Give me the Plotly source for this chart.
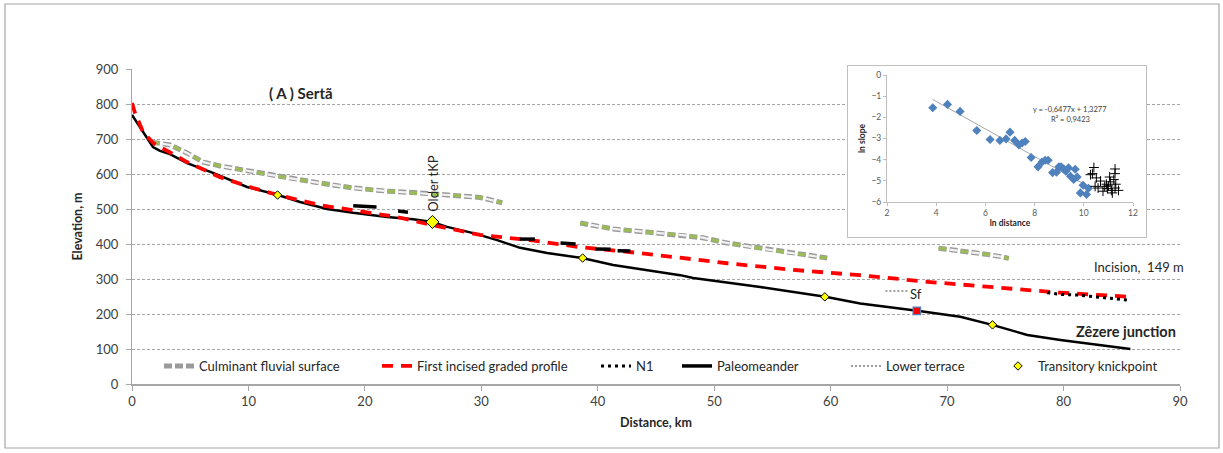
import plotly.graph_objects as go

# ---------------- data ----------------
# main long profile (black)
profile_km = [0, 0.95, 1.80, 2.41, 3.26, 4.73, 6.96, 9.88, 12.54, 14.43, 16.75, 18.99, 21.91,
              24.14, 25.77, 27.06, 29.30, 31.36, 33.33, 35.65, 38.66, 41.32, 44.24, 47.08,
              48.20, 53.95, 59.54, 62.54, 67.44, 71.13, 73.88, 76.89, 79.73, 82.56, 85.74]
profile_elev = [769, 720, 677, 666, 657, 631, 603, 563, 540, 520, 500, 489, 477,
                471, 463, 449, 431, 411, 389, 374, 360, 340, 326, 311,
                303, 277, 249, 230, 209, 192, 169, 140, 126, 114, 100]

# first incised graded profile (red dashed)
graded_km = [0, 0.26, 0.95, 1.80, 4.73, 7.56, 10.40, 12.54, 16.15, 22.77, 25.77, 29.90, 34.19,
             38.49, 43.64, 47.08, 51.1, 56.8, 62.5, 68.3, 74.0, 79.7, 85.7]
graded_elev = [803, 774, 720, 689, 634, 591, 560, 540, 511, 477, 454, 426, 411,
               391, 374, 360, 345, 326, 311, 292, 276, 261, 249]

# culminant fluvial surface (three segments, None = gap)
culminant_km = [1.72, 3.26, 4.73, 6.10, 7.56, 10.40, 13.32, 16.15, 18.99, 21.91, 24.74, 27.06, 29.90, 31.79,
                None,
                38.49, 41.32, 44.24, 47.08, 49.0, 51.1, 55.4, 59.7,
                None,
                69.27, 70.53, 72.0, 73.3, 74.6, 75.3]
culminant_elev = [691, 683, 660, 634, 623, 606, 589, 574, 560, 551, 546, 540, 533, 518,
                  None,
                  460, 443, 434, 426, 418, 403, 380, 360,
                  None,
                  388, 383, 378, 371, 364, 359]

# N1 (black dotted)
n1_km = [78.6, 79.7, 81.2, 82.6, 85.5]
n1_elev = [261, 256, 254, 249, 240]

# paleomeander pieces (None = gap)
paleo_km = [19.0, 21.0, None, 22.85, 23.7, None, 33.3, 34.6, None, 36.8, 38.1, None,
            39.8, 41.1, None, 41.7, 42.8]
paleo_elev = [509, 506, None, 494, 491, None, 414, 414, None, 403, 400, None,
              386, 385, None, 381, 380]

# lower terrace (grey dotted)
terrace_km = [64.7, 66.6]
terrace_elev = [266, 266]

# transitory knickpoints
tkp_km = [12.5, 38.7, 59.5, 73.9]
tkp_elev = [540, 360, 249, 169]
older_tkp_km = [25.8]
older_tkp_elev = [463]

# Sf point
sf_km = [67.4]
sf_elev = [209]

# inset: ln distance vs ln slope
blue_lnd = [3.86, 4.46, 4.97, 5.65, 6.19, 6.59, 6.84, 7.00, 7.19, 7.36, 7.49, 7.62, 7.86, 8.14,
            8.30, 8.43, 8.55, 8.73, 8.89, 8.99, 9.08, 9.19, 9.27, 9.38, 9.46, 9.59, 9.65, 9.73,
            9.86, 9.97, 10.11, 10.19]
blue_lns = [-1.55, -1.39, -1.72, -2.62, -3.05, -3.09, -3.02, -2.70, -3.09, -3.30, -3.21, -3.14,
            -3.90, -4.34, -4.11, -4.03, -4.03, -4.61, -4.59, -4.34, -4.34, -4.44, -4.55, -4.39,
            -4.78, -4.94, -4.45, -4.82, -5.57, -5.21, -5.64, -5.35]
black_lnd = [10.27, 10.35, 10.41, 10.46, 10.51, 10.58, 10.68, 10.78, 10.85, 10.92, 10.96, 11.00,
             11.05, 11.08, 11.12, 11.16, 11.22, 11.27, 11.27, 11.27, 11.30, 11.41]
black_lns = [-4.71, -4.66, -4.37, -5.26, -4.86, -5.34, -5.01, -5.49, -5.26, -5.16, -5.37, -5.24,
             -4.82, -5.05, -5.45, -5.57, -4.94, -4.44, -4.66, -5.34, -5.16, -5.45]
trend_lnd = [3.85, 10.2]
trend_lns = [-1.15, -5.28]

x_ticks = [0, 10, 20, 30, 40, 50, 60, 70, 80, 90]
y_ticks = [0, 100, 200, 300, 400, 500, 600, 700, 800, 900]

# ---------------- layout helpers ----------------
W, H = 1223, 453
ML, MR, MT, MB = 132, 43, 60, 69
PW = W - ML - MR
PH = H - MT - MB


def px_x(px):
    return (px - ML) / PW


def px_y(py):
    return (H - MB - py) / PH


FONT = "Lato"
TXT = "#262626"
GRID = "#a6a6a6"

fig = go.Figure()

# invisible subplot that hosts the white inset frame
fig.add_trace(go.Scatter(x=[], y=[], xaxis="x2", yaxis="y2", showlegend=False, hoverinfo="skip"))

# culminant fluvial surface: grey outlined pills alternating with green
fig.add_trace(go.Scatter(x=culminant_km, y=culminant_elev, mode="lines", name="Culminant fluvial surface",
                         line=dict(color="#9a9a9a", width=5, dash="8px,3px"),
                         legend="legend", connectgaps=False, hoverinfo="skip"))
fig.add_trace(go.Scatter(x=culminant_km, y=culminant_elev, mode="lines", showlegend=False,
                         line=dict(color="#f2f2f2", width=2.2, dash="0px,11px,8px,3px"), hoverinfo="skip"))
fig.add_trace(go.Scatter(x=culminant_km, y=culminant_elev, mode="lines", showlegend=False,
                         line=dict(color="#9bbb59", width=3.2, dash="8px,14px"), hoverinfo="skip"))

# main profile
fig.add_trace(go.Scatter(x=profile_km, y=profile_elev, mode="lines", showlegend=False,
                         line=dict(color="black", width=2.5), hoverinfo="skip"))

# first incised graded profile
fig.add_trace(go.Scatter(x=graded_km, y=graded_elev, mode="lines", name="First incised graded profile",
                         line=dict(color="#ff0000", width=3.8, dash="11px,8px"), legend="legend2"))

# N1
fig.add_trace(go.Scatter(x=n1_km, y=n1_elev, mode="lines", name="N1",
                         line=dict(color="black", width=3, dash="3px,4px"), legend="legend3"))

# paleomeander
fig.add_trace(go.Scatter(x=paleo_km, y=paleo_elev, mode="lines", name="Paleomeander",
                         line=dict(color="black", width=3.5), connectgaps=False, legend="legend4"))

# lower terrace
fig.add_trace(go.Scatter(x=terrace_km, y=terrace_elev, mode="lines", name="Lower terrace",
                         line=dict(color="#808080", width=1.5, dash="2px,2px"), legend="legend5"))

# Sf point
fig.add_trace(go.Scatter(x=sf_km, y=sf_elev, mode="markers", showlegend=False,
                         marker=dict(symbol="square", size=7.5, color="#ff0000",
                                     line=dict(color="#4f81bd", width=1.2))))

# knickpoints
fig.add_trace(go.Scatter(x=tkp_km, y=tkp_elev, mode="markers", name="Transitory knickpoint",
                         marker=dict(symbol="diamond", size=6.5, color="#ffff00",
                                     line=dict(color="black", width=1)), legend="legend6"))
fig.add_trace(go.Scatter(x=older_tkp_km, y=older_tkp_elev, mode="markers", showlegend=False,
                         marker=dict(symbol="diamond", size=10, color="#ffff00",
                                     line=dict(color="black", width=1))))

# inset traces
fig.add_trace(go.Scatter(x=trend_lnd, y=trend_lns, mode="lines", showlegend=False, xaxis="x3", yaxis="y3",
                         line=dict(color="#a6a6a6", width=1)))
fig.add_trace(go.Scatter(x=blue_lnd, y=blue_lns, mode="markers", showlegend=False, xaxis="x3", yaxis="y3",
                         marker=dict(symbol="diamond", size=7, color="#4f81bd")))
fig.add_trace(go.Scatter(x=black_lnd, y=black_lns, mode="markers", showlegend=False, xaxis="x3", yaxis="y3",
                         marker=dict(symbol="cross-thin", size=7, line=dict(color="black", width=1))))

# ---------------- legends (one per entry, placed like the original) ----------------
legend_text_px = [201, 419, 638, 719, 888, 1040]
legend_names = ["legend", "legend2", "legend3", "legend4", "legend5", "legend6"]
legend_common = dict(xanchor="left", yanchor="middle", y=px_y(366), bgcolor="rgba(0,0,0,0)",
                     borderwidth=0, font=dict(family=FONT, size=13, color=TXT), orientation="h",
                     itemwidth=30)
legends = {}
for nm, tx in zip(legend_names, legend_text_px):
    legends[nm] = dict(legend_common, x=px_x(tx - 42))

axis_font = dict(family=FONT, size=13, color="#404040")

fig.update_layout(
    width=W, height=H,
    margin=dict(l=ML, r=MR, t=MT, b=MB),
    paper_bgcolor="white", plot_bgcolor="white",
    font=dict(family=FONT, color=TXT),
    showlegend=True,
    xaxis=dict(domain=[0, 1], range=[0, 90], tickvals=x_ticks, showgrid=False, zeroline=False,
               showline=True, linecolor=GRID, linewidth=1.5, ticks="outside", ticklen=5, tickcolor=GRID,
               tickfont=axis_font, anchor="y",
               title=dict(text="<b>Distance, km</b>", font=dict(family=FONT, size=12.5, color=TXT), standoff=10)),
    yaxis=dict(domain=[0, px_y(69)], range=[0, 900], tickvals=y_ticks, showgrid=True, gridcolor=GRID,
               griddash="3px,2px", gridwidth=1, zeroline=False, showline=True, linecolor=GRID, linewidth=1,
               ticks="outside", ticklen=5, tickcolor=GRID, tickfont=axis_font, ticklabelstandoff=5,
               anchor="x",
               title=dict(text="<b>Elevation, m</b>", font=dict(family=FONT, size=12.5, color=TXT), standoff=10)),
    xaxis2=dict(domain=[px_x(847), px_x(1147)], range=[0, 1], visible=False, anchor="y2", fixedrange=True),
    yaxis2=dict(domain=[px_y(238), px_y(65)], range=[0, 1], visible=False, anchor="x2", fixedrange=True),
    xaxis3=dict(domain=[px_x(887), px_x(1133)], range=[2, 12], tickvals=[2, 4, 6, 8, 10, 12],
                showgrid=False, zeroline=False, showline=True, linecolor="#bfbfbf", ticks="outside",
                ticklen=3, tickcolor="#bfbfbf", tickfont=dict(family=FONT, size=8.5, color="#595959"),
                anchor="y3",
                title=dict(text="<b>ln distance</b>", font=dict(family=FONT, size=8.5, color=TXT), standoff=2)),
    yaxis3=dict(domain=[px_y(202), px_y(75)], range=[-6, 0], tickvals=[-6, -5, -4, -3, -2, -1, 0],
                showgrid=False, zeroline=False, showline=True, linecolor="#bfbfbf", ticks="outside",
                ticklen=3, tickcolor="#bfbfbf", tickfont=dict(family=FONT, size=8.5, color="#595959"),
                anchor="x3",
                title=dict(text="<b>ln slope</b>", font=dict(family=FONT, size=8.5, color=TXT), standoff=4)),
    **legends,
)

# frames
fig.add_shape(type="rect", xref="x2", yref="y2", x0=0, x1=1, y0=0, y1=1, layer="below",
              fillcolor="white", line=dict(color="#bfbfbf", width=2))
fig.add_shape(type="rect", xref="paper", yref="paper", x0=px_x(5), x1=px_x(1219), y0=px_y(448), y1=px_y(4),
              layer="below", fillcolor="rgba(0,0,0,0)", line=dict(color="#a6a6a6", width=1.2))

# annotations
ann = [
    dict(x=14.5, y=831, text="<b>( A ) Sertã</b>", font=dict(family=FONT, size=15, color=TXT)),
    dict(x=25.9, y=574, text="Older tKP", textangle=-90, font=dict(family=FONT, size=13, color=TXT)),
    dict(x=86.5, y=334, text="Incision,  149 m", font=dict(family=FONT, size=13, color=TXT)),
    dict(x=85.4, y=151, text="<b>Zêzere junction</b>", font=dict(family=FONT, size=14.5, color=TXT)),
    dict(x=67.35, y=257, text="Sf", font=dict(family=FONT, size=13, color=TXT)),
]
for a in ann:
    fig.add_annotation(xref="x", yref="y", showarrow=False, **a)
fig.add_annotation(xref="x3", yref="y3", x=9.44, y=-1.65, text="y = -0,6477x + 1,3277", showarrow=False,
                   font=dict(family=FONT, size=7.5, color="#404040"))
fig.add_annotation(xref="x3", yref="y3", x=9.44, y=-2.08, text="R² = 0,9423", showarrow=False,
                   font=dict(family=FONT, size=7.5, color="#404040"))

fig.write_html("out.html")
